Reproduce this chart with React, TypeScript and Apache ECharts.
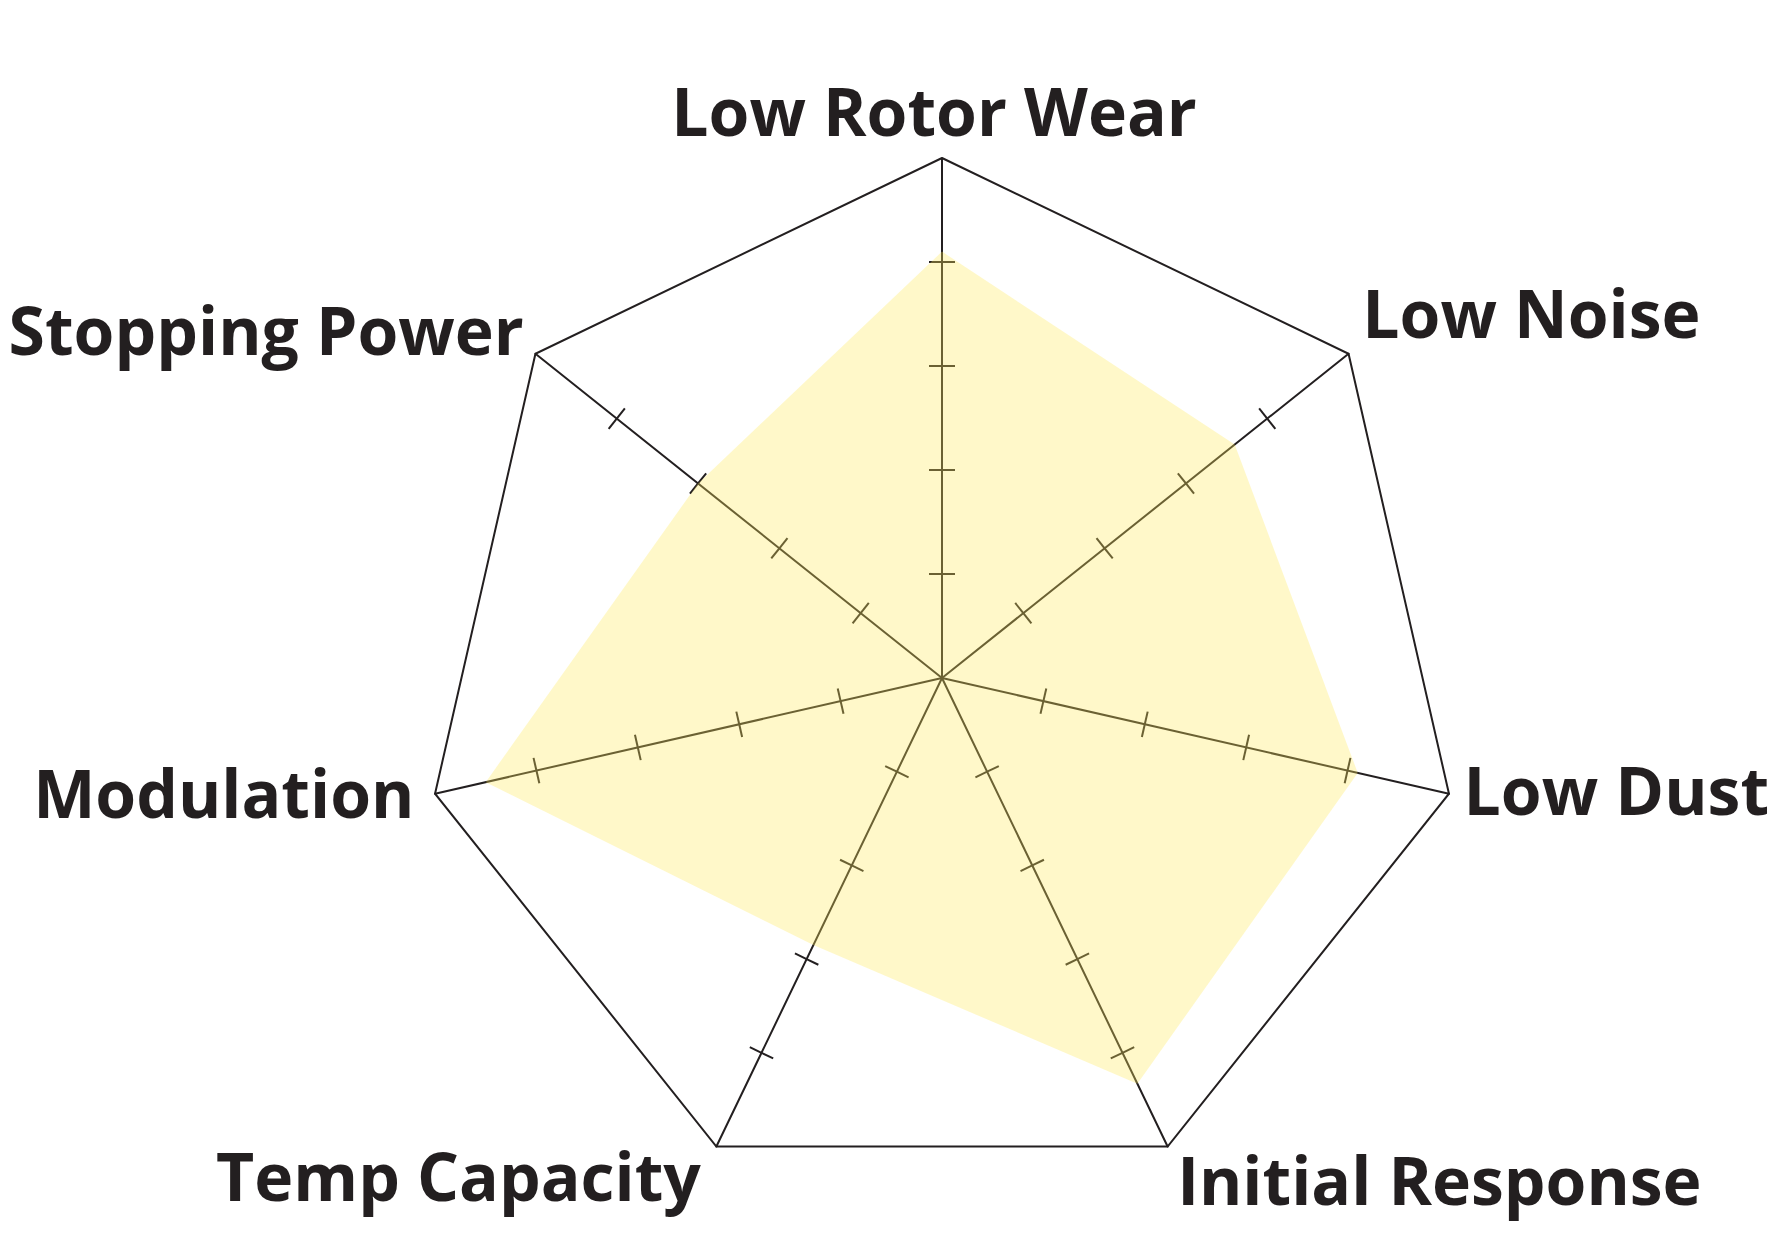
import React, { useEffect, useRef } from "react";
import * as echarts from "echarts";

// Axes listed in ECharts' (counter-clockwise) drawing order, starting at the top.
const indicatorNames = [
  "Low Rotor Wear",
  "Stopping Power",
  "Modulation",
  "Temp Capacity",
  "Initial Response",
  "Low Dust",
  "Low Noise",
];
const scores = [4.1, 3.0, 4.5, 2.85, 4.33, 4.1, 3.6];
const maxScore = 5;
const tickValues = [1, 2, 3, 4];

const INK = "#231F20";

// label nudges (styling only): [top, right, bottom, left] padding per label
const labelPadding: Record<string, number[]> = {
  "Low Rotor Wear": [0, 16, 0, 0],
  "Stopping Power": [0, 0, 30, 0],
  Modulation: [0, 6, 10, 0],
  "Temp Capacity": [30, 9, 0, 0],
  "Initial Response": [38, 0, 0, 3],
  "Low Dust": [0, 0, 16, 0],
  "Low Noise": [0, 0, 64, 2],
};

export default function App() {
  const ref = useRef<HTMLDivElement>(null);
  useEffect(() => {
    if (!ref.current) return;
    const chart = echarts.init(ref.current, undefined, { renderer: "svg" });
    const indicator = indicatorNames.map((name) => ({ name, min: 0, max: maxScore }));
    const center = [942, 678];
    const radius = 520;
    const font = {
      color: INK,
      fontSize: 66,
      fontWeight: "bold",
      fontFamily: "Open Sans",
    };
    const rich: Record<string, any> = {};
    indicatorNames.forEach((name, i) => {
      rich["n" + i] = { ...font, padding: labelPadding[name] || [0, 0, 0, 0] };
    });
    const tickRadar = (len: number) => ({
      indicator,
      center,
      radius,
      startAngle: 90,
      shape: "polygon",
      splitNumber: 5,
      axisName: { show: false },
      axisLine: { show: false },
      splitLine: { show: false },
      splitArea: { show: false },
      axisLabel: { show: false },
      axisTick: {
        show: true,
        length: len,
        customValues: tickValues,
        lineStyle: { color: INK, width: 2 },
      },
    });
    chart.setOption({
      animation: false,
      backgroundColor: "#ffffff",
      radar: [
        {
          indicator,
          center,
          radius,
          startAngle: 90,
          shape: "polygon",
          splitNumber: 1,
          nameGap: 15,
          axisName: {
            ...font,
            formatter: (name: string) => {
              const i = indicatorNames.indexOf(name);
              return `{n${i}|${name}}`;
            },
            rich,
          },
          axisLine: { show: true, lineStyle: { color: INK, width: 2 } },
          splitLine: { show: true, lineStyle: { color: INK, width: 2 } },
          splitArea: { show: false },
          axisTick: { show: false },
          axisLabel: { show: false },
        },
        tickRadar(13),
        tickRadar(-13),
      ],
      series: [
        {
          type: "radar",
          radarIndex: 0,
          symbol: "none",
          z: 5,
          lineStyle: { width: 0, opacity: 0 },
          areaStyle: { color: "#FFE95C", opacity: 0.33 },
          data: [{ value: scores, name: "Brake Pad" }],
        },
      ],
    });
    return () => chart.dispose();
  }, []);
  return (
    <div
      ref={ref}
      style={{ position: "absolute", left: 0, top: 0, width: 1786, height: 1256 }}
    />
  );
}
